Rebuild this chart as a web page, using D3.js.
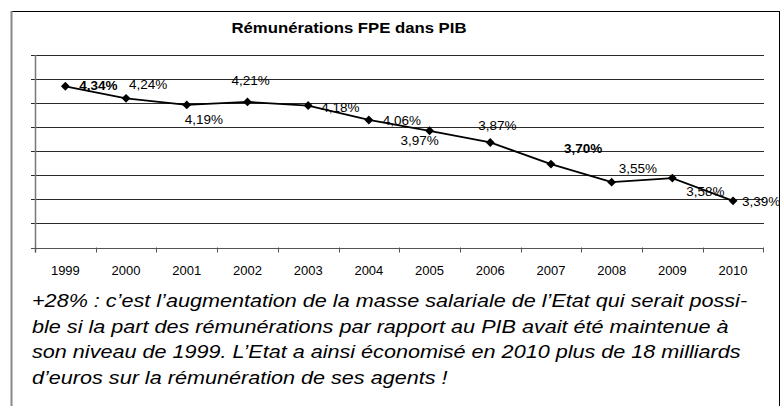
<!DOCTYPE html>
<html>
<head>
<meta charset="utf-8">
<script src="https://cdn.jsdelivr.net/npm/d3@7"></script>
<style>
  body { margin: 0; background: #fff; }
  svg text { font-family: "Liberation Sans", Arial, Helvetica, sans-serif; fill: #000; }
</style>
</head>
<body>
<div id="chart"></div>
<script>
// data
var years = ["1999", "2000", "2001", "2002", "2003", "2004", "2005", "2006", "2007", "2008", "2009", "2010"];
var shares = [4.34, 4.24, 4.185, 4.21, 4.18, 4.06, 3.97, 3.873, 3.693, 3.543, 3.577, 3.388];
var shareLabels = ["4,34%", "4,24%", "4,19%", "4,21%", "4,18%", "4,06%", "3,97%", "3,87%", "3,70%", "3,55%", "3,58%", "3,39%"];
var boldLabels = ["1999", "2007"];
var yTicks = [3.0, 3.2, 3.4, 3.6, 3.8, 4.0, 4.2, 4.4, 4.6];
var title = "Rémunérations FPE dans PIB";
var noteLines = [
    "+28% : c’est l’augmentation de la masse salariale de l’Etat qui serait possi-",
    "ble si la part des rémunérations par rapport au PIB avait été maintenue à",
    "son niveau de 1999. L’Etat a ainsi économisé en 2010 plus de 18 milliards",
    "d’euros sur la rémunération de ses agents !"
];

// where each value label sits next to its point (dx from point to text start, dy to baseline)
var labelOffsets = [[14, 4], [3, -9], [-2, 19], [-16, -17], [13, 6], [14, 5],
                    [-29, 14], [-12, -12], [13, -11], [7, -9], [14, 18], [9, 5]];

var svgWidth = 782;
var svgHeight = 406;

var svg = d3.select("#chart")
    .append("svg")
    .attr("width", svgWidth)
    .attr("height", svgHeight);

// clip everything at the frame's right edge
svg.append("clipPath")
    .attr("id", "frameClip")
    .append("rect")
    .attr("x", 0).attr("y", 0)
    .attr("width", 779).attr("height", svgHeight);

var chartGroup = svg.append("g").attr("clip-path", "url(#frameClip)");

//scales
var xScale = d3.scaleBand()
    .domain(years)
    .range([35, 763.4])
    .padding(0);

var yScale = d3.scaleLinear()
    .domain([3.0, 4.6])
    .range([247.5, 55]);

//gridlines
chartGroup.append("g")
    .selectAll("line")
    .data(yTicks.slice(1))
    .enter()
    .append("line")
    .attr("x1", 31)
    .attr("x2", 764)
    .attr("y1", d => Math.round(yScale(d)) + 0.5)
    .attr("y2", d => Math.round(yScale(d)) + 0.5)
    .attr("stroke", "#2a2a2a")
    .attr("stroke-width", 1);

//y axis line
chartGroup.append("line")
    .attr("x1", 35.5).attr("x2", 35.5)
    .attr("y1", yScale(4.6)).attr("y2", yScale(3.0) + 5)
    .attr("stroke", "#777")
    .attr("stroke-width", 1.5);

//x axis with ticks on category boundaries
chartGroup.append("line")
    .attr("x1", 31).attr("x2", 764)
    .attr("y1", Math.round(yScale(3.0)) + 0.5)
    .attr("y2", Math.round(yScale(3.0)) + 0.5)
    .attr("stroke", "#555")
    .attr("stroke-width", 1.2);

var boundaries = years.map(d => xScale(d)).concat([xScale.range()[1]]);
chartGroup.append("g")
    .selectAll("line")
    .data(boundaries)
    .enter()
    .append("line")
    .attr("x1", d => Math.round(d) + 0.5)
    .attr("x2", d => Math.round(d) + 0.5)
    .attr("y1", yScale(3.0))
    .attr("y2", yScale(3.0) + 5)
    .attr("stroke", "#555")
    .attr("stroke-width", 1);

var bottomAxis = d3.axisBottom(xScale).tickSize(0).tickPadding(0);
var xAxis = chartGroup.append("g")
    .attr("transform", "translate(0, 266)")
    .call(bottomAxis);
xAxis.select(".domain").remove();
xAxis.selectAll("text")
    .attr("dy", "0.71em")
    .attr("font-size", "13px")
    .style("font-family", "'Liberation Sans', Arial, sans-serif")
    .attr("fill", "#000");

//line
var line = d3.line()
    .x((d, i) => xScale(years[i]) + xScale.bandwidth() / 2)
    .y(d => yScale(d));

chartGroup.append("path")
    .datum(shares)
    .attr("d", line)
    .attr("fill", "none")
    .attr("stroke", "#000")
    .attr("stroke-width", 1.8);

//diamond markers
var diamond = d3.symbol().type(d3.symbolDiamond2).size(50);
chartGroup.selectAll(".marker")
    .data(shares)
    .enter()
    .append("path")
    .attr("class", "marker")
    .attr("d", diamond)
    .attr("transform", (d, i) => `translate(${xScale(years[i]) + xScale.bandwidth() / 2}, ${yScale(d)})`)
    .attr("fill", "#000");

//value labels
chartGroup.selectAll(".valueLabel")
    .data(shares)
    .enter()
    .append("text")
    .attr("class", "valueLabel")
    .attr("x", (d, i) => xScale(years[i]) + xScale.bandwidth() / 2 + labelOffsets[i][0])
    .attr("y", (d, i) => yScale(d) + labelOffsets[i][1])
    .attr("font-size", "13.5px")
    .attr("font-weight", (d, i) => boldLabels.indexOf(years[i]) >= 0 ? "bold" : "normal")
    .text((d, i) => shareLabels[i]);

//title
svg.append("text")
    .attr("x", 231.5)
    .attr("y", 33)
    .attr("font-size", "15px")
    .attr("font-weight", "bold")
    .attr("textLength", 235)
    .attr("lengthAdjust", "spacingAndGlyphs")
    .text(title);

//comment under the chart (the scan is stretched sideways)
svg.append("g")
    .attr("transform", "translate(32, 0) scale(1.235, 1)")
    .selectAll("text")
    .data(noteLines)
    .enter()
    .append("text")
    .attr("x", 0)
    .attr("y", (d, i) => 307 + i * 25.7)
    .attr("font-size", "17.5px")
    .attr("font-style", "italic")
    .text(d => d);

//frame
svg.append("line")
    .attr("x1", 11).attr("x2", 779.5)
    .attr("y1", 11.5).attr("y2", 11.5)
    .attr("stroke", "#000");
svg.append("line")
    .attr("x1", 11.5).attr("x2", 11.5)
    .attr("y1", 11).attr("y2", svgHeight)
    .attr("stroke", "#888")
    .attr("stroke-width", 2);
svg.append("line")
    .attr("x1", 779.5).attr("x2", 779.5)
    .attr("y1", 11).attr("y2", svgHeight)
    .attr("stroke", "#000");
</script>
</body>
</html>
